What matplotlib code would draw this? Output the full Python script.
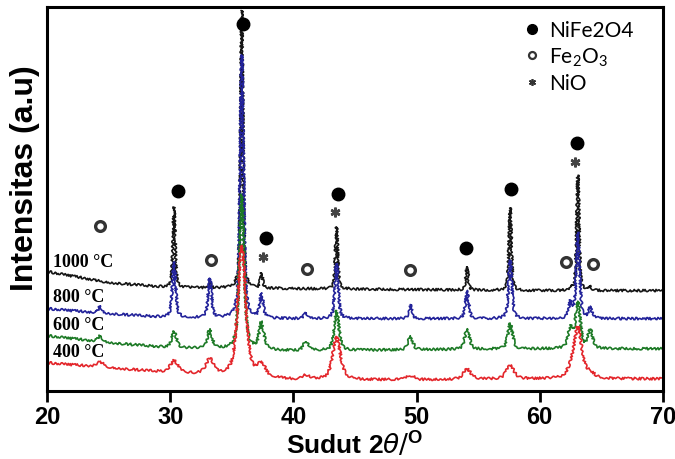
import numpy as np
import matplotlib
matplotlib.use("Agg")
import matplotlib.pyplot as plt
from matplotlib.lines import Line2D

plt.rcParams['font.family'] = ['Liberation Sans', 'DejaVu Sans']

# reflection positions (2theta) and peak heights for each calcination temperature
peak_pos = [24.3, 30.3, 33.2, 35.8, 37.4, 41.0, 43.5, 49.5, 54.1, 57.6, 62.5, 63.1, 64.1]
h_1000 = [0, 80, 5, 277, 14, 0, 62, 0, 23, 82, 3, 115, 4]
h_800 = [7, 55, 39, 262, 24, 6, 55, 13, 27, 58, 15, 85, 10]
h_600 = [6, 16, 18, 154, 26, 9, 39, 13, 20, 25, 20, 45, 18]
h_400 = [5, 12, 15, 130, 12, 4, 42, 4, 10, 13, 6, 50, 5]

# background level of each pattern
base_x = [20, 25, 30, 40, 50, 60, 70]
base_1000 = [119, 108, 103, 102, 101, 100, 100]
base_800 = [82, 77, 73, 72, 72, 72, 72]
base_600 = [55, 48, 43, 40, 41, 42, 42]
base_400 = [28, 23, 18, 11, 11, 12, 12]

fwhm = {'1000': 0.22, '800': 0.32, '600': 0.45, '400': 0.75}

labels = ['1000 °C', '800 °C', '600 °C', '400 °C']
label_y = [129, 94, 66, 39]

# phase markers (2theta, intensity)
spinel_x = [30.6, 35.9, 37.8, 43.6, 54.0, 57.7, 63.0]
spinel_y = [199, 366, 152, 196, 143, 201, 247]
hematite_x = [24.3, 33.3, 41.1, 49.5, 62.1, 64.3]
hematite_y = [164, 131, 122, 121, 129, 127]
nio_x = [37.5, 43.4, 62.9]
nio_y = [134, 178, 228]


def pattern(x, heights, base, w):
    y = np.interp(x, base_x, base)
    for p, h in zip(peak_pos, heights):
        g = w / 2.0
        y = y + h * (0.6 * g**2 / ((x - p)**2 + g**2)
                     + 0.4 * np.exp(-4 * np.log(2) * (x - p)**2 / w**2))
    return y


x = np.linspace(20, 70, 5000)

fig = plt.figure(figsize=(6.75, 4.6), dpi=100)
ax = fig.add_axes([0.07, 0.148, 0.912, 0.835])

series = [
    (h_1000, base_1000, fwhm['1000'], '#151515'),
    (h_800, base_800, fwhm['800'], '#23239a'),
    (h_600, base_600, fwhm['600'], '#1d7a26'),
    (h_400, base_400, fwhm['400'], '#e3262b'),
]
for h, b, w, c in series:
    line, = ax.plot(x, pattern(x, h, b, w), color=c, lw=1.2)
    line.set_sketch_params(scale=1.2, length=4, randomness=3)

for lab, ly in zip(labels, label_y):
    ax.text(20.5, ly, lab, family='Liberation Serif', fontweight='bold',
            fontsize=13, va='center', ha='left')

ax.plot(spinel_x, spinel_y, 'o', color='black', ms=9, ls='none')
ax.plot(hematite_x, hematite_y, 'o', mfc='none', mec='#333333', mew=2.4, ms=7, ls='none')
ax.plot(nio_x, nio_y, marker=(6, 2, 0), color='#444444', mew=1.8, ms=7, ls='none')

handles = [
    Line2D([], [], marker='o', color='black', ls='none', ms=7),
    Line2D([], [], marker='o', mfc='none', mec='#333333', mew=1.6, ls='none', ms=5),
    Line2D([], [], marker=(6, 2, 0), color='#333333', mew=1.2, ls='none', ms=5),
]
leg = ax.legend(handles, ['NiFe2O4', r'Fe$_\mathregular{2}$O$_\mathregular{3}$', 'NiO'],
                loc='upper left', bbox_to_anchor=(0.74, 1.015), frameon=False,
                prop={'family': 'Lato', 'size': 15}, handletextpad=0.3,
                labelspacing=0.25, handlelength=1.0)

ax.set_xlim(20, 70)
ax.set_ylim(0, 383)
ax.set_xticks([20, 30, 40, 50, 60, 70])
ax.set_yticks([])
ax.tick_params(axis='x', direction='out', length=8, width=2, labelsize=17, pad=2)
for t in ax.get_xticklabels():
    t.set_fontweight('bold')
for s in ax.spines.values():
    s.set_linewidth(2.2)

ax.set_xlabel(r'Sudut 2$\theta/^{\mathregular{O}}$', fontsize=19, fontweight='bold', labelpad=0)
ax.set_ylabel('Intensitas (a.u)', fontsize=23, fontweight='bold')
ax.yaxis.set_label_coords(-0.012, 0.556)

fig.savefig('out.png', dpi=100)
